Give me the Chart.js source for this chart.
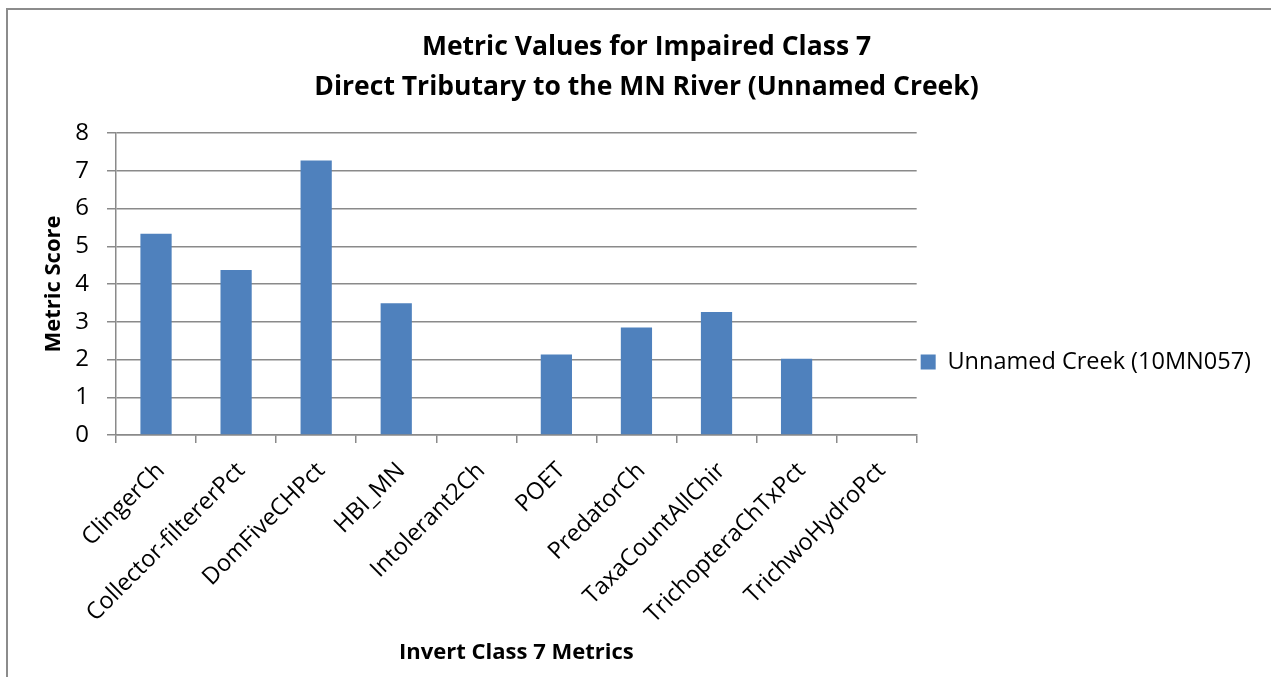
<!DOCTYPE html>
<html>
<head>
<meta charset="utf-8">
<title>Metric Values for Impaired Class 7</title>
<script src="https://cdn.jsdelivr.net/npm/chart.js@4/dist/chart.umd.min.js"></script>
<style>
    html, body { margin: 0; padding: 0; background: #fff; overflow: hidden; }
    .frame {
        position: absolute; left: 6px; top: 8px; right: -10px; bottom: -10px;
        border-left: 2px solid #8c8c8c; border-top: 2px solid #8c8c8c;
    }
    .chart-box { position: absolute; left: 0; top: 0; width: 1271px; height: 677px; }
</style>
</head>
<body>
<div class="frame"></div>
<div class="chart-box"><canvas id="metricChart"></canvas></div>
<script>
const metricNames = ['ClingerCh', 'Collector-filtererPct', 'DomFiveCHPct', 'HBI_MN', 'Intolerant2Ch',
    'POET', 'PredatorCh', 'TaxaCountAllChir', 'TrichopteraChTxPct', 'TrichwoHydroPct'];
const creekScores = [5.33, 4.37, 7.27, 3.49, 0, 2.13, 2.85, 3.26, 2.02, 0];
const seriesName = 'Unnamed Creek (10MN057)';
const titleLines = ['Metric Values for Impaired Class 7', 'Direct Tributary to the MN River (Unnamed Creek)'];
const yTicks = [0, 1, 2, 3, 4, 5, 6, 7, 8];

function buildChart() {
    Chart.defaults.font.family = '"Open Sans", sans-serif';
    Chart.defaults.color = '#000';

    const gridGrey = '#8a8a8a';
    const ctx = document.getElementById('metricChart').getContext('2d');

    new Chart(ctx, {
        type: 'bar',
        data: {
            labels: metricNames,
            datasets: [{
                label: seriesName,
                data: creekScores,
                backgroundColor: '#4f81bd',
                barPercentage: 0.78,
                categoryPercentage: 0.5
            }]
        },
        options: {
            responsive: true,
            maintainAspectRatio: false,
            animation: false,
            // bottom is negative so the full-height legend sits a bit lower, like the original
            layout: { padding: { left: 32, right: 10, top: 0, bottom: -47 } },
            plugins: {
                title: {
                    display: true,
                    text: titleLines,
                    font: { size: 26.5, weight: 'bold', lineHeight: 1.51 },
                    padding: { top: 27, bottom: 26 }
                },
                legend: {
                    position: 'right',
                    align: 'center',
                    maxWidth: 400,
                    labels: {
                        boxWidth: 15,
                        boxHeight: 15,
                        padding: 4,
                        font: { size: 23.5 }
                    }
                },
                tooltip: { enabled: false }
            },
            scales: {
                x: {
                    offset: true,
                    grid: { drawOnChartArea: false, offset: true, tickLength: 8, color: gridGrey, lineWidth: 1.5 },
                    border: { color: gridGrey, width: 1.5 },
                    ticks: {
                        autoSkip: false,
                        minRotation: 45,
                        maxRotation: 45,
                        padding: 14,
                        labelOffset: 5,
                        font: { size: 23.5 }
                    },
                    title: {
                        display: true,
                        text: 'Invert Class 7 Metrics',
                        font: { size: 22, weight: 'bold' },
                        padding: { top: 0, bottom: 58 }
                    },
                    afterFit: scale => { scale.height = 289; }
                },
                y: {
                    min: 0,
                    max: 8,
                    afterBuildTicks: scale => { scale.ticks = yTicks.map(v => ({ value: v })); },
                    grid: { color: gridGrey, lineWidth: 1.5, tickLength: 9 },
                    border: { color: gridGrey, width: 1.5 },
                    ticks: { padding: 18, font: { size: 24 } },
                    title: {
                        display: true,
                        text: 'Metric Score',
                        font: { size: 22, weight: 'bold' },
                        padding: { top: 9, bottom: 0 }
                    },
                    afterFit: scale => { scale.width = 84; }
                }
            }
        }
    });
}

// make sure the local fonts are ready before Chart.js measures any text
Promise.all([
    document.fonts.load('24px "Open Sans"'),
    document.fonts.load('bold 24px "Open Sans"')
]).then(buildChart, buildChart);
</script>
</body>
</html>
